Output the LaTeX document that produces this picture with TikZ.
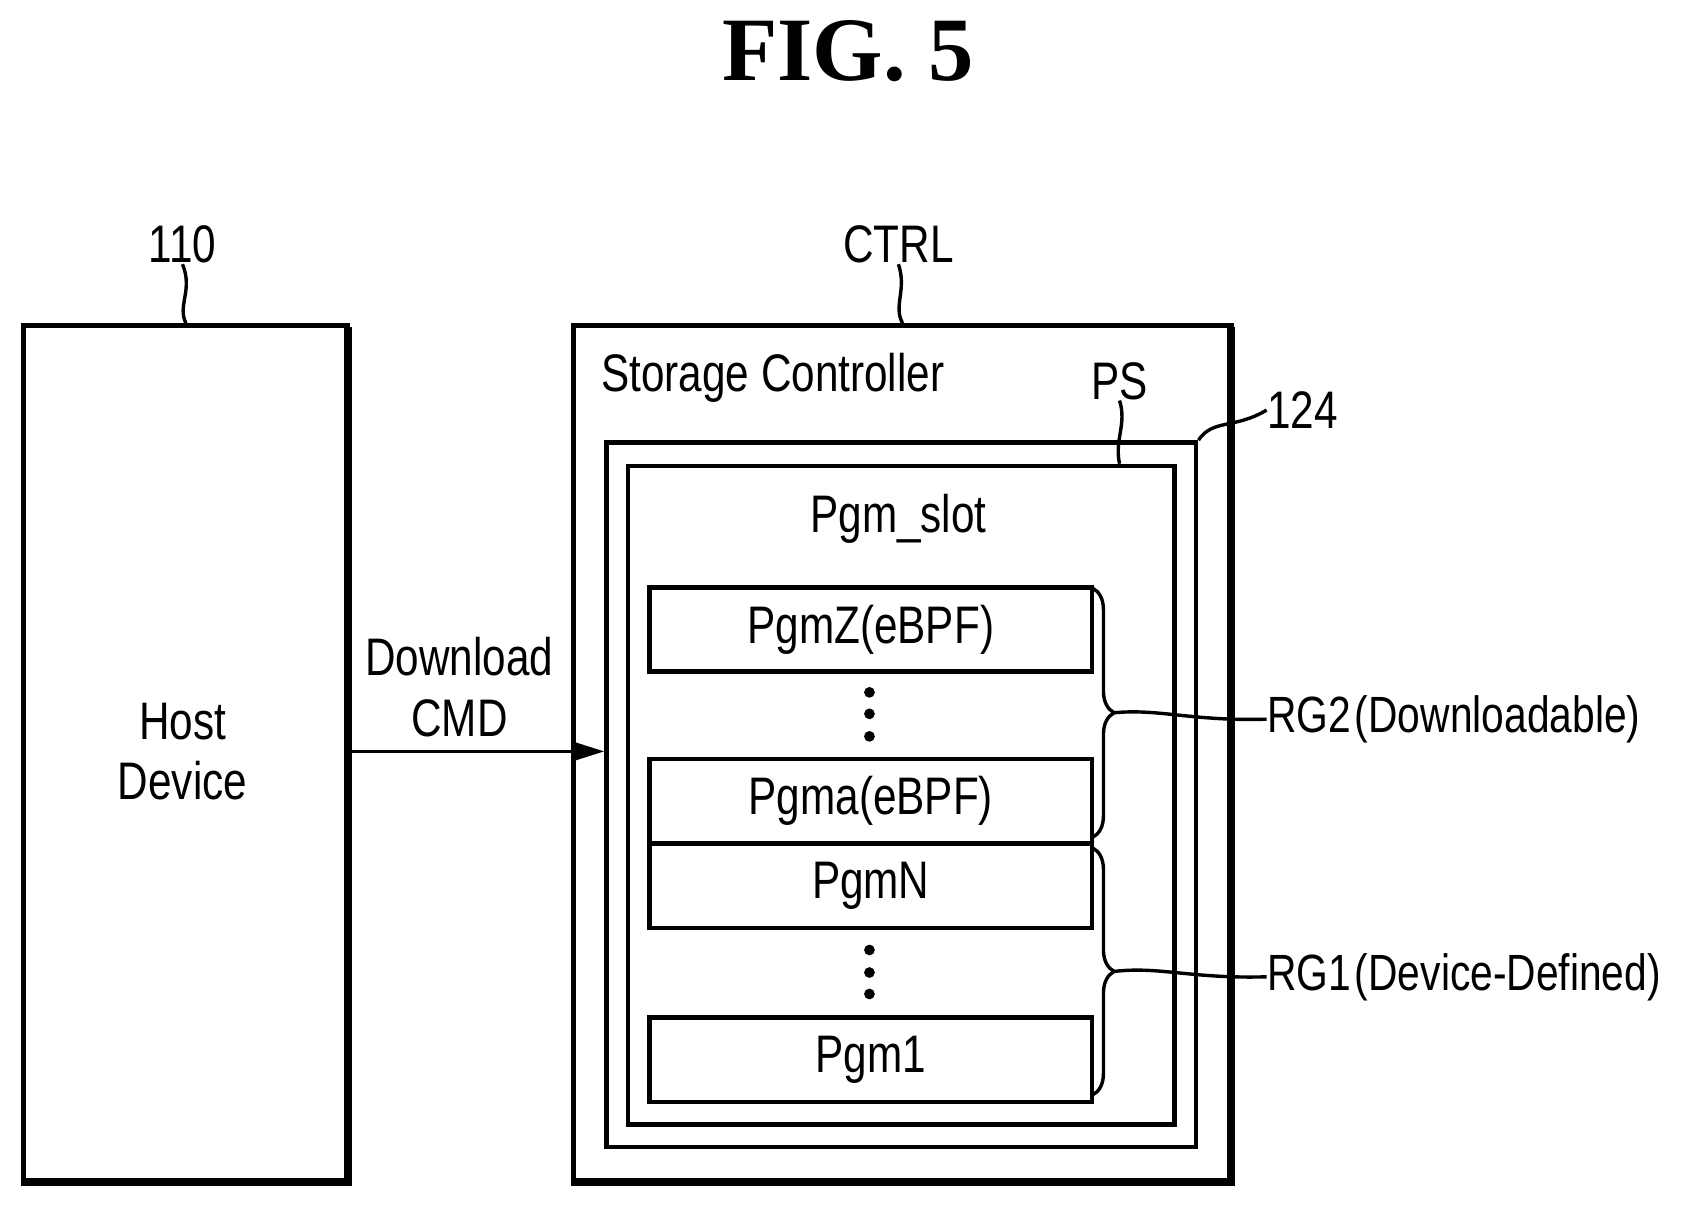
\documentclass[tikz,border=0pt]{standalone}
\usepackage{fontspec}
\setmainfont{Liberation Sans}[FakeStretch=0.8]
\newfontfamily\titlefont{Liberation Serif}
\usetikzlibrary{decorations.pathreplacing,arrows.meta}
\begin{document}
\begin{tikzpicture}[x=0.01cm,y=-0.01cm,
  box/.style={draw,line width=1.2pt},
  lead/.style={line width=0.9pt},
  lbl/.style={font=\fontsize{14}{16}\selectfont,inner sep=0pt},
  prog/.style={draw,line width=1.2pt,minimum width=4.12cm,minimum height=0.785cm,font=\fontsize{14}{16}\selectfont},
  br/.style={decorate,decoration={brace,amplitude=0.2cm},line width=0.9pt}]
\useasboundingbox (0,0) rectangle (1567,1123);
\node[font=\titlefont\bfseries\fontsize{24}{28}\selectfont] (title) at (790,48) {FIG. 5};
% host
\draw[line width=2.2pt] (24,1101) -- (324,1101) -- (324,305);
\node[box,minimum width=3.02cm,minimum height=7.99cm,anchor=north west] (host) at (20,301) {};
\node[lbl,align=center] (hosttxt) at (170,700) {Host\\Device};
\node[lbl] (n110) at (170,228) {110};
\draw[lead] (host.north) .. controls (165,285) and (180,270) .. (n110.south);
% ctrl
\draw[line width=2.2pt] (536,1101) -- (1147,1101) -- (1147,305);
\node[box,minimum width=6.13cm,minimum height=7.99cm,anchor=north west] (ctrl) at (532,301) {};
\node[lbl] (nctrl) at (837,228) {CTRL};
\draw[lead] (ctrl.north) .. controls (832,285) and (845,270) .. (nctrl.south);
\node[lbl] (sc) at (720,352) {Storage Controller};
% PS
\node[box,minimum width=5.49cm,minimum height=6.56cm,anchor=north west] (ps) at (563,410) {};
\node[box,minimum width=5.09cm,minimum height=6.13cm,anchor=north west] (slot) at (583,432) {};
\node[lbl] (nps) at (1043,355) {PS};
\draw[lead] (1043,432) .. controls (1038,410) and (1050,395) .. (nps.south);
\node[lbl,anchor=west] (n124) at (1180,382) {124};
\draw[lead] (ps.north east) .. controls (1130,390) and (1150,400) .. (n124.west);
\node[lbl] (slottxt) at (837,483) {Pgm\_slot};
% programs
\node[prog,anchor=north west] (pz) at (603,545) {PgmZ(eBPF)};
\node[prog,anchor=north west] (pa) at (603,705) {Pgma(eBPF)};
\node[prog,anchor=north west] (pn) at (603,784) {PgmN};
\node[prog,anchor=north west] (p1) at (603,946) {Pgm1};
\foreach \y in {645,665,686,885,906,926} \fill (810,\y) circle (0.05cm);
% braces
\draw[br] (1018,548) -- (1018,780) coordinate[midway,xshift=0.2cm] (b2);
\draw[br] (1018,790) -- (1018,1020) coordinate[midway,xshift=0.2cm] (b1);
\node[lbl,anchor=west,font=\fontsize{13.5}{16}\selectfont] (rg2) at (1180,670) {RG2\kern1pt(Downloadable)};
\node[lbl,anchor=west,font=\fontsize{13.5}{16}\selectfont] (rg1) at (1180,910) {RG1\kern1pt(Device-Defined)};
\draw[lead] (b2) .. controls (1080,660) and (1110,672) .. (rg2.west);
\draw[lead] (b1) .. controls (1080,900) and (1110,912) .. (rg1.west);
% download
\node[lbl,align=center] (dl) at (428,640) {Download\\CMD};
\draw[line width=0.9pt,-{Triangle[length=0.3cm,width=0.18cm]}] (host.east|-0,700) -- (ps.west|-0,700);
\end{tikzpicture}
\end{document}
